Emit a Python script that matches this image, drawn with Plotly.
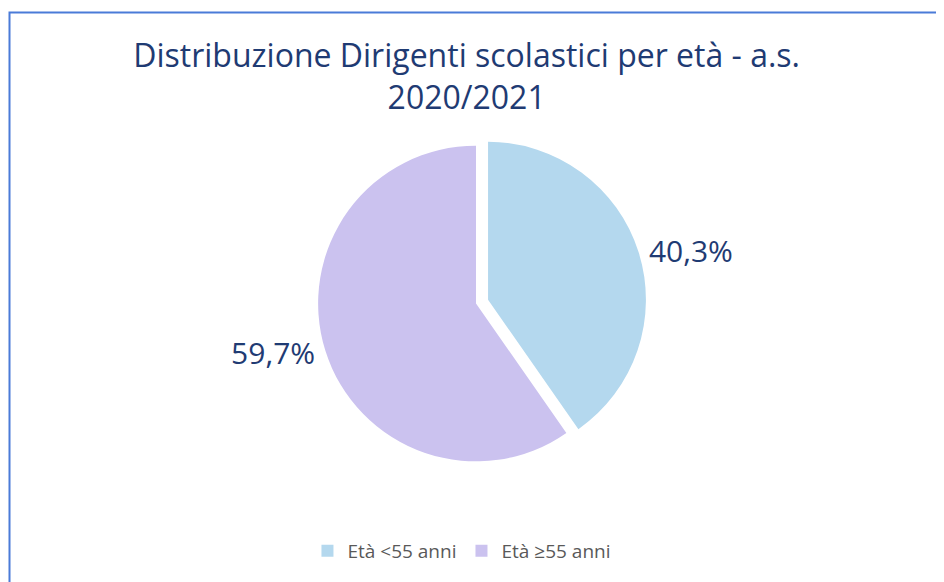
import plotly.graph_objects as go

categories = ["Età <55 anni", "Età ≥55 anni"]
values = [40.3, 59.7]
value_labels = ["40,3%", "59,7%"]
colors = ["#B4D8EE", "#CBC2EF"]

# page body has an 8px margin, so the figure is 8px smaller than the window
W, H = 936, 574

fig = go.Figure()
fig.add_trace(go.Pie(
    labels=categories,
    values=values,
    text=value_labels,
    textinfo="text",
    textposition="outside",
    textfont=dict(family="Open Sans", size=30, color="#1F3B73"),
    marker=dict(colors=colors, line=dict(color="white", width=0)),
    pull=[0.08, 0],
    sort=False,
    direction="clockwise",
    rotation=0,
    domain=dict(x=[0.14, 0.86], y=[(H - 466) / H, (H - 125) / H]),
    showlegend=True,
))

fig.update_layout(
    width=W, height=H,
    margin=dict(l=0, r=0, t=0, b=0, autoexpand=False),
    paper_bgcolor="white",
    title=dict(
        text="Distribuzione Dirigenti scolastici per età - a.s.<br>2020/2021",
        x=0.49, xanchor="center", y=1 - 59 / H, yanchor="middle",
        font=dict(family="Open Sans", size=32, color="#1F3B73"),
    ),
    legend=dict(
        orientation="h", x=0.485, xanchor="center", y=1 - 543 / H, yanchor="middle",
        font=dict(family="Open Sans", size=19, color="#595959"),
        itemwidth=30,
    ),
    shapes=[dict(
        type="rect", xref="paper", yref="paper",
        x0=1.5 / W, y0=1 - 4.5 / H, x1=1.02, y1=-0.02,
        line=dict(color="#4A7BD8", width=2),
    )],
)

fig.write_html("out.html")
